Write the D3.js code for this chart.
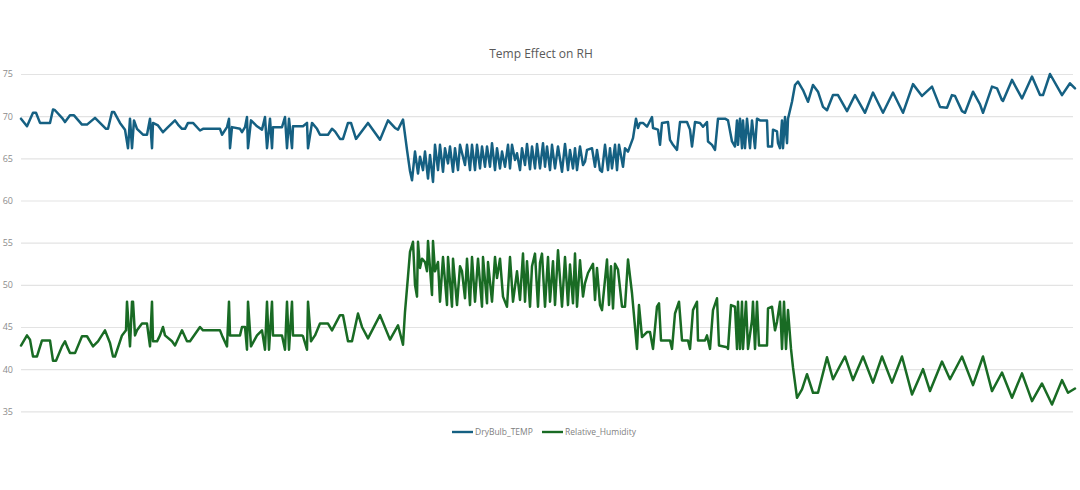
<!DOCTYPE html>
<html>
<head>
<meta charset="utf-8">
<script src="https://cdn.jsdelivr.net/npm/d3@7"></script>
<style>
  html, body { margin: 0; padding: 0; background: #fff; }
  svg { display: block; font-family: "Open Sans", "Noto Sans", sans-serif; }
</style>
</head>
<body>
<svg id="chart" width="1080" height="490"></svg>
<script>
// hourly readings, stored as [hour, value] at the turning points of each trace
const tempPoints = [
  [0,69.7],[6,68.8],[12,70.4],[15,70.4],[19,69.2],[29,69.2],[32,70.8],[34,70.7],[41,69.8],[44,69.3],
  [49,70.1],[53,70.1],[61,69.0],[66,69.0],[74,69.8],[79,69.2],[85,68.5],[87,68.5],[91,70.5],[93,70.5],
  [99,69.2],[104,68.4],[107,66.2],[109,69.7],[111,66.2],[113,69.5],[116,68.5],[122,67.8],[126,67.8],[129,69.7],
  [131,66.2],[132,69.2],[137,68.9],[142,68.1],[147,68.7],[154,69.5],[157,69.0],[161,68.5],[164,68.5],[167,69.2],
  [172,69.2],[179,68.3],[182,68.5],[199,68.5],[201,67.8],[206,68.7],[208,69.7],[209,66.2],[211,68.7],[219,68.5],
  [221,68.1],[224,68.7],[226,69.9],[227,66.2],[230,69.5],[236,68.8],[241,68.4],[244,69.9],[246,66.2],[249,69.7],
  [251,66.2],[252,68.7],[261,68.7],[264,69.9],[266,66.2],[268,69.7],[271,66.2],[272,68.8],[282,68.8],[286,69.2],
  [287,66.2],[291,69.2],[296,68.5],[299,67.8],[307,67.8],[311,68.5],[314,68.2],[319,67.3],[322,67.3],[327,69.2],
  [330,69.2],[335,67.3],[347,69.2],[359,67.2],[367,69.5],[374,68.6],[377,68.4],[382,69.6],[386,66.0],[389,63.5],
  [391,62.4],[394,65.8],[397,63.2],[399,65.2],[402,63.6],[404,65.8],[407,62.6],[409,65.4],[412,62.2],[414,66.6],
  [417,63.6],[419,66.6],[422,63.4],[424,66.2],[427,64.4],[429,66.4],[432,63.4],[434,66.2],[437,63.6],[439,66.6],
  [444,64.2],[446,66.6],[449,63.6],[451,66.6],[454,63.6],[456,66.6],[459,63.8],[461,66.4],[464,64.0],[466,66.4],
  [469,64.0],[471,66.8],[474,63.6],[476,66.2],[479,63.8],[481,65.8],[484,64.0],[487,66.6],[489,63.8],[491,66.6],
  [494,64.8],[496,65.6],[499,63.6],[501,66.2],[504,64.2],[506,66.7],[509,63.7],[511,66.4],[514,63.8],[516,66.7],
  [519,63.8],[522,66.8],[524,64.0],[526,66.4],[529,63.6],[531,66.6],[534,63.8],[537,66.4],[541,63.4],[544,66.7],
  [547,63.6],[549,66.0],[552,63.8],[554,66.2],[556,63.6],[559,66.4],[562,64.2],[564,64.6],[566,66.0],[571,66.2],
  [574,64.0],[576,66.0],[579,63.6],[581,63.4],[584,66.6],[587,63.6],[589,66.2],[591,63.8],[594,66.6],[596,63.6],
  [598,66.6],[602,64.0],[604,66.2],[607,65.8],[612,67.4],[615,69.7],[617,68.6],[619,69.2],[622,69.2],[626,68.75],
  [631,69.9],[632,68.6],[637,68.4],[639,66.6],[641,69.2],[647,69.3],[649,67.2],[652,66.6],[656,66.0],[659,69.3],
  [666,69.3],[669,68.4],[671,66.4],[674,69.3],[679,69.2],[682,68.75],[686,69.3],[687,67.0],[691,66.6],[694,66.0],
  [697,69.7],[704,69.7],[707,69.5],[711,67.0],[714,66.4],[716,69.5],[717,66.6],[719,69.7],[721,66.2],[722,69.5],
  [724,66.2],[726,69.7],[729,66.2],[731,69.5],[734,66.2],[736,69.7],[739,69.5],[746,69.5],[747,66.4],[751,66.4],
  [752,68.4],[756,68.2],[757,66.8],[759,66.2],[761,69.5],[762,66.2],[764,69.9],[766,66.8],[767,69.7],[771,71.7],
  [774,73.7],[777,74.1],[782,73.1],[787,71.7],[792,73.7],[797,72.9],[802,71.1],[806,70.7],[812,72.5],[817,72.5],
  [826,70.6],[834,72.5],[844,70.4],[852,72.8],[862,70.4],[872,72.8],[882,70.4],[892,73.8],[901,72.4],[911,73.5],
  [919,71.1],[926,71.0],[931,72.5],[934,72.4],[941,70.6],[944,70.4],[952,72.9],[959,71.4],[962,70.4],[971,73.5],
  [976,73.3],[981,71.9],[982,71.8],[991,74.3],[1001,72.1],[1011,74.7],[1019,72.5],[1022,72.5],[1029,75.0],[1041,72.5],
  [1049,73.9],[1054,73.3]
];

const rhPoints = [
  [0,42.8],[6,44.0],[9,43.5],[12,41.5],[16,41.5],[21,43.4],[29,43.4],[32,41.0],[35,41.0],[41,42.7],
  [44,43.3],[46,42.7],[49,41.9],[54,41.9],[61,43.9],[66,43.9],[72,42.7],[77,43.3],[84,44.6],[89,43.1],
  [92,41.5],[94,41.5],[101,44.0],[105,44.6],[106,48.0],[109,42.7],[111,48.0],[112,48.0],[114,44.0],[116,44.6],
  [121,45.4],[126,45.4],[129,42.7],[131,48.0],[132,43.3],[136,43.3],[139,44.0],[142,45.0],[144,44.0],[151,43.3],
  [154,42.8],[161,44.6],[166,43.3],[169,43.3],[179,45.0],[182,44.6],[199,44.6],[201,44.0],[206,42.7],[208,48.0],
  [209,44.0],[219,44.0],[221,45.0],[224,45.0],[226,42.3],[227,48.0],[230,42.7],[236,44.0],[241,44.6],[244,42.3],
  [246,48.0],[248,42.3],[251,48.0],[252,44.0],[261,44.0],[264,42.3],[266,48.0],[268,42.3],[271,48.0],[272,44.0],
  [281,44.0],[282,43.9],[286,42.3],[287,48.0],[290,43.3],[294,44.0],[299,45.4],[307,45.4],[311,44.6],[319,46.4],
  [322,46.4],[327,43.3],[331,43.3],[337,46.6],[341,45.0],[347,43.65],[359,46.4],[369,43.5],[377,45.2],[382,42.9],
  [384,46.8],[387,51.0],[389,53.9],[392,55.1],[394,50.0],[396,48.6],[397,55.1],[399,52.0],[401,53.1],[404,52.7],
  [406,51.6],[407,55.2],[411,48.8],[412,55.2],[414,51.6],[417,52.7],[419,48.0],[422,53.3],[426,47.6],[427,53.3],
  [431,47.4],[432,53.1],[436,47.6],[439,52.2],[441,51.6],[444,48.4],[446,53.1],[449,47.6],[451,53.3],[454,48.0],
  [457,53.1],[461,47.4],[462,53.3],[466,47.8],[467,52.7],[471,48.0],[474,53.3],[476,50.8],[479,53.1],[482,48.6],
  [486,47.4],[489,53.3],[492,48.0],[496,51.6],[499,48.2],[502,53.7],[504,48.0],[506,52.8],[509,47.4],[511,52.2],
  [514,53.7],[517,47.4],[519,52.6],[521,53.7],[524,47.4],[527,53.3],[529,48.0],[532,52.8],[534,47.6],[537,54.1],
  [541,47.4],[544,53.3],[547,47.6],[549,52.4],[552,47.8],[554,53.7],[556,47.4],[559,52.9],[562,48.6],[564,50.2],
  [567,51.4],[572,52.5],[574,48.2],[576,52.0],[579,47.6],[581,47.0],[586,53.0],[588,47.6],[590,52.2],[592,47.2],
  [594,52.5],[597,51.8],[601,47.4],[604,47.4],[607,53.0],[611,49.0],[614,45.0],[616,42.4],[618,47.6],[621,43.8],
  [626,44.4],[629,44.4],[632,42.4],[636,47.4],[638,47.8],[640,43.4],[649,43.4],[651,42.4],[654,46.6],[658,48.0],
  [661,43.4],[667,43.4],[669,42.4],[672,47.0],[676,48.0],[677,43.4],[684,43.4],[686,44.0],[689,42.4],[692,47.0],
  [696,48.4],[698,42.8],[706,42.6],[707,42.4],[710,47.6],[714,47.4],[716,42.4],[717,48.0],[719,42.4],[721,48.0],
  [722,42.4],[725,48.0],[727,42.4],[731,45.8],[732,48.0],[734,42.4],[736,48.0],[738,42.8],[746,42.8],[747,47.2],
  [751,47.4],[754,44.6],[756,45.6],[759,48.0],[761,42.4],[763,48.0],[765,42.4],[767,47.0],[770,42.4],[772,40.2],
  [776,36.6],[781,37.6],[786,39.4],[792,37.2],[797,37.2],[806,41.4],[812,38.8],[819,40.4],[824,41.5],[832,38.7],
  [842,41.5],[852,38.4],[861,41.5],[871,38.4],[881,41.5],[891,37.0],[902,40.0],[909,37.4],[921,40.9],[929,38.8],
  [941,41.5],[952,38.1],[962,41.5],[971,37.4],[981,39.6],[991,36.6],[1001,39.5],[1011,36.2],[1021,38.3],[1031,35.8],
  [1041,38.7],[1047,37.2],[1054,37.7]
];

const yTicks = [35, 40, 45, 50, 55, 60, 65, 70, 75];
const seriesNames = ["DryBulb_TEMP", "Relative_Humidity"];
const seriesColors = ["#156082", "#196B24"];
const chartTitle = "Temp Effect on RH";

const svg = d3.select("#chart");
const plot = { left: 21, right: 1075, top: 74, bottom: 411.3 };

const x = d3.scaleLinear().domain([0, 1054]).range([plot.left, plot.right]);
const y = d3.scaleLinear().domain([35, 75]).range([plot.bottom, plot.top]);

// gridlines + labels via the axis, then restyle
const yAxis = d3.axisLeft(y).tickValues(yTicks).tickSize(-(1073 - plot.left)).tickPadding(8);
const gy = svg.append("g")
  .attr("transform", `translate(${plot.left},0)`)
  .call(yAxis);
gy.select(".domain").remove();
gy.selectAll(".tick line").attr("stroke", "#e3e3e3").attr("stroke-width", 1.2);
gy.selectAll(".tick text")
  .attr("fill", "#8c8c8c")
  .style("font-size", "9px")
  .style("font-family", "'Open Sans', sans-serif");

// title
svg.append("text")
  .attr("x", 541).attr("y", 58)
  .attr("text-anchor", "middle")
  .attr("fill", "#595959")
  .style("font-size", "12px")
  .text(chartTitle);

const line = d3.line().x(d => x(d[0])).y(d => y(d[1]));

[tempPoints, rhPoints].forEach((pts, i) => {
  svg.append("path")
    .datum(pts)
    .attr("fill", "none")
    .attr("stroke", seriesColors[i])
    .attr("stroke-width", 2.5)
    .attr("stroke-linejoin", "round")
    .attr("stroke-linecap", "round")
    .attr("d", line);
});

// legend
const legend = svg.append("g").attr("transform", "translate(452,432)");
const legendX = [0, 90];
seriesNames.forEach((name, i) => {
  const g = legend.append("g").attr("transform", `translate(${legendX[i]},0)`);
  g.append("line")
    .attr("x1", 0).attr("x2", 21)
    .attr("stroke", seriesColors[i])
    .attr("stroke-width", 2.4);
  g.append("text")
    .attr("x", 23).attr("y", 3)
    .attr("fill", "#7f7f7f")
    .style("font-size", "8.5px")
    .text(name);
});
</script>
</body>
</html>
